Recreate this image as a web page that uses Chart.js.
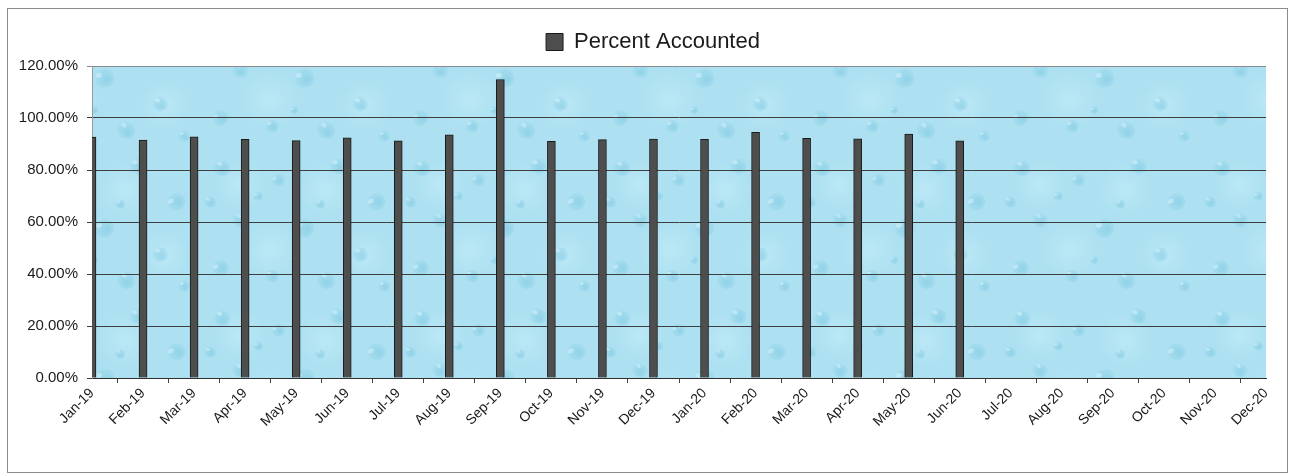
<!DOCTYPE html>
<html>
<head>
<meta charset="utf-8">
<title>Percent Accounted</title>
<script src="https://cdn.jsdelivr.net/npm/chart.js@4/dist/chart.umd.min.js"></script>
<style>
  html, body { margin: 0; padding: 0; background: #ffffff; }
  #wrap { position: relative; width: 1294px; height: 475px; }
  canvas { display: block; }
</style>
</head>
<body>
<div id="wrap"><canvas id="chart" width="1294" height="475"></canvas></div>
<script>
// Monthly categories on the x axis
const months = [
  'Jan-19', 'Feb-19', 'Mar-19', 'Apr-19', 'May-19', 'Jun-19',
  'Jul-19', 'Aug-19', 'Sep-19', 'Oct-19', 'Nov-19', 'Dec-19',
  'Jan-20', 'Feb-20', 'Mar-20', 'Apr-20', 'May-20', 'Jun-20',
  'Jul-20', 'Aug-20', 'Sep-20', 'Oct-20', 'Nov-20', 'Dec-20'
];

// Percent accounted per month (reported months only)
const percentAccounted = [
  92.7, 91.5, 92.8, 91.8, 91.3, 92.4,
  91.2, 93.5, 114.8, 91.0, 91.7, 91.9,
  91.8, 94.5, 92.2, 92.0, 93.8, 91.2
];

// Value axis range and step (percent)
const yMin = 0;
const yMax = 120;
const yStep = 20;

const seriesName = 'Percent Accounted';

// Months without a report stay empty
const seriesData = months.map((m, i) => (i < percentAccounted.length ? percentAccounted[i] : null));

// Soft light-blue water-drop texture for the plot area
function makeTexture() {
  const tile = document.createElement('canvas');
  tile.width = 200;
  tile.height = 150;
  const g = tile.getContext('2d');
  g.fillStyle = '#ade1f1';
  g.fillRect(0, 0, tile.width, tile.height);
  // lighter mottled patches, kept inside the tile so it repeats cleanly
  const patches = [
    [40, 35, 24], [125, 40, 26], [165, 105, 24], [70, 100, 28]
  ];
  patches.forEach(([x, y, r]) => {
    const grad = g.createRadialGradient(x, y, 0, x, y, r);
    grad.addColorStop(0, 'rgba(200,238,250,0.5)');
    grad.addColorStop(1, 'rgba(200,238,250,0)');
    g.fillStyle = grad;
    g.beginPath();
    g.arc(x, y, r, 0, Math.PI * 2);
    g.fill();
  });
  // drops: [x, y, radius, tilt]
  const drops = [
    [22, 18, 10, 0.4], [78, 30, 8, -0.3], [138, 16, 10, 0.2], [176, 52, 11, -0.5],
    [40, 70, 9, 0.6], [104, 78, 12, -0.2], [160, 104, 9, 0.3], [20, 118, 10, -0.4],
    [72, 126, 8, 0.1], [126, 130, 11, 0.5], [184, 136, 7, 0.2], [58, 46, 6, 0.0],
    [120, 54, 6, 0.3], [94, 110, 5, -0.1], [10, 52, 7, 0.2]
  ];
  drops.forEach(([x, y, r, t]) => {
    g.save();
    g.translate(x, y);
    g.rotate(t);
    const grad = g.createRadialGradient(r * 0.25, r * 0.2, r * 0.1, 0, 0, r);
    grad.addColorStop(0, 'rgba(110,192,222,0.42)');
    grad.addColorStop(0.65, 'rgba(130,202,228,0.28)');
    grad.addColorStop(1, 'rgba(173,225,241,0)');
    g.fillStyle = grad;
    g.beginPath();
    g.ellipse(0, 0, r, r * 0.78, 0, 0, Math.PI * 2);
    g.fill();
    g.fillStyle = 'rgba(225,246,253,0.45)';
    g.beginPath();
    g.ellipse(-r * 0.38, -r * 0.3, r * 0.28, r * 0.2, 0, 0, Math.PI * 2);
    g.fill();
    g.restore();
  });
  return tile;
}

// Page background, outer frame and plot-area fill
const frameAndFill = {
  id: 'frameAndFill',
  beforeDraw(chart) {
    const { ctx, chartArea: a } = chart;
    ctx.save();
    ctx.fillStyle = '#ffffff';
    ctx.fillRect(0, 0, chart.width, chart.height);
    ctx.strokeStyle = '#8c8c8c';
    ctx.lineWidth = 1;
    ctx.strokeRect(7.5, 8.5, 1280, 464);
    const pattern = ctx.createPattern(makeTexture(), 'repeat');
    ctx.fillStyle = pattern;
    ctx.fillRect(a.left, a.top, a.right - a.left, a.bottom - a.top);
    ctx.restore();
  }
};

// Legend row: a little room below it, and centred over the whole frame
const legendPlacement = {
  id: 'legendPlacement',
  beforeLayout(chart) {
    const lg = chart.legend;
    if (lg && !lg._gapAdded) {
      const fit = lg.fit.bind(lg);
      lg.fit = function () { fit(); this.height += 3; };
      lg._gapAdded = true;
    }
  },
  afterLayout(chart) {
    const lg = chart.legend;
    if (lg) {
      lg.left += 16;
      lg.right += 16;
    }
  }
};

new Chart(document.getElementById('chart'), {
  type: 'bar',
  data: {
    labels: months,
    datasets: [{
      label: seriesName,
      data: seriesData,
      backgroundColor: '#4e4e4e',
      borderColor: '#1a1a1a',
      borderWidth: 1,
      barThickness: 8,
      clip: 0
    }]
  },
  options: {
    responsive: false,
    animation: false,
    devicePixelRatio: 1,
    layout: { padding: { left: 8, right: 28, top: 23, bottom: 3 } },
    plugins: {
      legend: {
        display: true,
        position: 'top',
        labels: {
          boxWidth: 17,
          boxHeight: 17,
          padding: 8,
          color: '#1a1a1a',
          font: { family: '"Liberation Sans", Arial, sans-serif', size: 22 }
        }
      },
      tooltip: { enabled: false }
    },
    scales: {
      x: {
        type: 'category',
        offset: false,
        afterFit(scale) { scale.height = 94; },
        grid: {
          display: true,
          drawOnChartArea: false,
          drawTicks: true,
          tickLength: 5,
          color: '#444444'
        },
        border: { display: true, color: '#2e2e2e', width: 1 },
        ticks: {
          autoSkip: false,
          maxRotation: 45,
          minRotation: 45,
          padding: 2,
          color: '#1a1a1a',
          font: { family: '"Liberation Sans", Arial, sans-serif', size: 14 }
        }
      },
      y: {
        min: yMin,
        max: yMax,
        afterFit(scale) { scale.width = 84; },
        grid: {
          color: (c) => (c.tick && c.tick.value === yMax ? '#8a8a8a' : '#3e3e3e'),
          lineWidth: 1,
          tickLength: 5
        },
        border: { display: true, color: '#9a9a9a', width: 1 },
        ticks: {
          stepSize: yStep,
          padding: 9,
          color: '#1a1a1a',
          font: { family: '"Liberation Sans", Arial, sans-serif', size: 15 },
          callback: (v) => Number(v).toFixed(2) + '%'
        }
      }
    }
  },
  plugins: [frameAndFill, legendPlacement]
});
</script>
</body>
</html>
